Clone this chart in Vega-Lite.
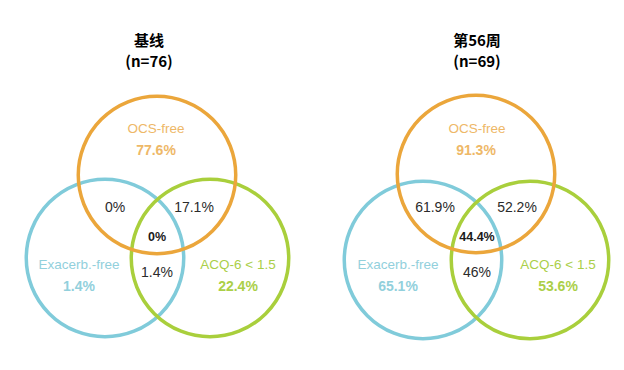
{
  "$schema": "https://vega.github.io/schema/vega-lite/v6.json",
  "width": 624,
  "height": 370,
  "autosize": {"type": "none"},
  "padding": 0,
  "background": "white",
  "config": {"view": {"stroke": null}},
  "datasets": {
    "circles": [
      {"panel": "基线", "set": "Exacerb.-free", "cx": 105, "cy": 258},
      {"panel": "基线", "set": "ACQ-6 < 1.5", "cx": 210, "cy": 258},
      {"panel": "基线", "set": "OCS-free", "cx": 157, "cy": 175},
      {"panel": "第56周", "set": "Exacerb.-free", "cx": 423, "cy": 260},
      {"panel": "第56周", "set": "ACQ-6 < 1.5", "cx": 530, "cy": 260},
      {"panel": "第56周", "set": "OCS-free", "cx": 476, "cy": 174}
    ],
    "labels": [
      {"panel": "基线", "role": "title", "set": "none", "text": "基线", "x": 149, "y": 41},
      {"panel": "基线", "role": "title", "set": "none", "text": "(n=76)", "x": 149, "y": 62},
      {"panel": "基线", "role": "name", "set": "OCS-free", "text": "OCS-free", "x": 156, "y": 129},
      {"panel": "基线", "role": "pct", "set": "OCS-free", "text": "77.6%", "x": 156, "y": 151},
      {"panel": "基线", "role": "overlap", "set": "none", "text": "0%", "x": 115, "y": 208},
      {"panel": "基线", "role": "overlap", "set": "none", "text": "17.1%", "x": 194, "y": 208},
      {"panel": "基线", "role": "core", "set": "none", "text": "0%", "x": 157, "y": 237},
      {"panel": "基线", "role": "name", "set": "Exacerb.-free", "text": "Exacerb.-free", "x": 79, "y": 265},
      {"panel": "基线", "role": "pct", "set": "Exacerb.-free", "text": "1.4%", "x": 79, "y": 287},
      {"panel": "基线", "role": "overlap", "set": "none", "text": "1.4%", "x": 157, "y": 273},
      {"panel": "基线", "role": "name", "set": "ACQ-6 < 1.5", "text": "ACQ-6 < 1.5", "x": 238, "y": 265},
      {"panel": "基线", "role": "pct", "set": "ACQ-6 < 1.5", "text": "22.4%", "x": 238, "y": 287},
      {"panel": "第56周", "role": "title", "set": "none", "text": "第56周", "x": 477, "y": 41},
      {"panel": "第56周", "role": "title", "set": "none", "text": "(n=69)", "x": 477, "y": 62},
      {"panel": "第56周", "role": "name", "set": "OCS-free", "text": "OCS-free", "x": 477, "y": 129},
      {"panel": "第56周", "role": "pct", "set": "OCS-free", "text": "91.3%", "x": 476, "y": 151},
      {"panel": "第56周", "role": "overlap", "set": "none", "text": "61.9%", "x": 435, "y": 208},
      {"panel": "第56周", "role": "overlap", "set": "none", "text": "52.2%", "x": 517, "y": 208},
      {"panel": "第56周", "role": "core", "set": "none", "text": "44.4%", "x": 477, "y": 237},
      {"panel": "第56周", "role": "name", "set": "Exacerb.-free", "text": "Exacerb.-free", "x": 398, "y": 265},
      {"panel": "第56周", "role": "pct", "set": "Exacerb.-free", "text": "65.1%", "x": 398, "y": 287},
      {"panel": "第56周", "role": "overlap", "set": "none", "text": "46%", "x": 477, "y": 273},
      {"panel": "第56周", "role": "name", "set": "ACQ-6 < 1.5", "text": "ACQ-6 < 1.5", "x": 558, "y": 265},
      {"panel": "第56周", "role": "pct", "set": "ACQ-6 < 1.5", "text": "53.6%", "x": 558, "y": 287}
    ]
  },
  "layer": [
    {
      "data": {"name": "circles"},
      "mark": {"type": "point", "shape": "circle", "filled": false, "size": 24800, "strokeWidth": 3.5, "opacity": 1},
      "encoding": {
        "x": {"field": "cx", "type": "quantitative", "scale": {"domain": [0, 624], "nice": false, "zero": false}, "axis": null},
        "y": {"field": "cy", "type": "quantitative", "scale": {"domain": [0, 370], "nice": false, "zero": false, "reverse": true}, "axis": null},
        "stroke": {"field": "set", "type": "nominal", "scale": {"domain": ["OCS-free", "Exacerb.-free", "ACQ-6 < 1.5"], "range": ["#EBA63B", "#80CBDA", "#A9CF3C"]}, "legend": null}
      }
    },
    {
      "data": {"name": "labels"},
      "transform": [{"filter": "datum.role === 'name'"}],
      "mark": {"type": "text", "font": "Liberation Sans", "fontSize": 13.5, "baseline": "middle", "align": "center"},
      "encoding": {
        "x": {"field": "x", "type": "quantitative", "scale": {"domain": [0, 624], "nice": false, "zero": false}, "axis": null},
        "y": {"field": "y", "type": "quantitative", "scale": {"domain": [0, 370], "nice": false, "zero": false, "reverse": true}, "axis": null},
        "text": {"field": "text"},
        "color": {"field": "set", "type": "nominal", "scale": {"domain": ["OCS-free", "Exacerb.-free", "ACQ-6 < 1.5"], "range": ["#EEB868", "#92D0DC", "#ABCF48"]}, "legend": null}
      }
    },
    {
      "data": {"name": "labels"},
      "transform": [{"filter": "datum.role === 'pct'"}],
      "mark": {"type": "text", "font": "Liberation Sans", "fontSize": 14, "fontWeight": "bold", "baseline": "middle", "align": "center"},
      "encoding": {
        "x": {"field": "x", "type": "quantitative", "scale": {"domain": [0, 624], "nice": false, "zero": false}, "axis": null},
        "y": {"field": "y", "type": "quantitative", "scale": {"domain": [0, 370], "nice": false, "zero": false, "reverse": true}, "axis": null},
        "text": {"field": "text"},
        "color": {"field": "set", "type": "nominal", "scale": {"domain": ["OCS-free", "Exacerb.-free", "ACQ-6 < 1.5"], "range": ["#EEB868", "#92D0DC", "#ABCF48"]}, "legend": null}
      }
    },
    {
      "data": {"name": "labels"},
      "transform": [{"filter": "datum.role === 'overlap'"}],
      "mark": {"type": "text", "font": "Liberation Sans", "fontSize": 14, "baseline": "middle", "align": "center", "color": "#2b2b2b"},
      "encoding": {
        "x": {"field": "x", "type": "quantitative", "scale": {"domain": [0, 624], "nice": false, "zero": false}, "axis": null},
        "y": {"field": "y", "type": "quantitative", "scale": {"domain": [0, 370], "nice": false, "zero": false, "reverse": true}, "axis": null},
        "text": {"field": "text"}
      }
    },
    {
      "data": {"name": "labels"},
      "transform": [{"filter": "datum.role === 'core'"}],
      "mark": {"type": "text", "font": "Liberation Sans", "fontSize": 12.5, "fontWeight": "bold", "baseline": "middle", "align": "center", "color": "#1a1a1a"},
      "encoding": {
        "x": {"field": "x", "type": "quantitative", "scale": {"domain": [0, 624], "nice": false, "zero": false}, "axis": null},
        "y": {"field": "y", "type": "quantitative", "scale": {"domain": [0, 370], "nice": false, "zero": false, "reverse": true}, "axis": null},
        "text": {"field": "text"}
      }
    },
    {
      "data": {"name": "labels"},
      "transform": [{"filter": "datum.role === 'title'"}],
      "mark": {"type": "text", "font": "Noto Sans CJK SC", "fontSize": 15, "fontWeight": "bold", "baseline": "middle", "align": "center", "color": "#000000"},
      "encoding": {
        "x": {"field": "x", "type": "quantitative", "scale": {"domain": [0, 624], "nice": false, "zero": false}, "axis": null},
        "y": {"field": "y", "type": "quantitative", "scale": {"domain": [0, 370], "nice": false, "zero": false, "reverse": true}, "axis": null},
        "text": {"field": "text"}
      }
    }
  ]
}
